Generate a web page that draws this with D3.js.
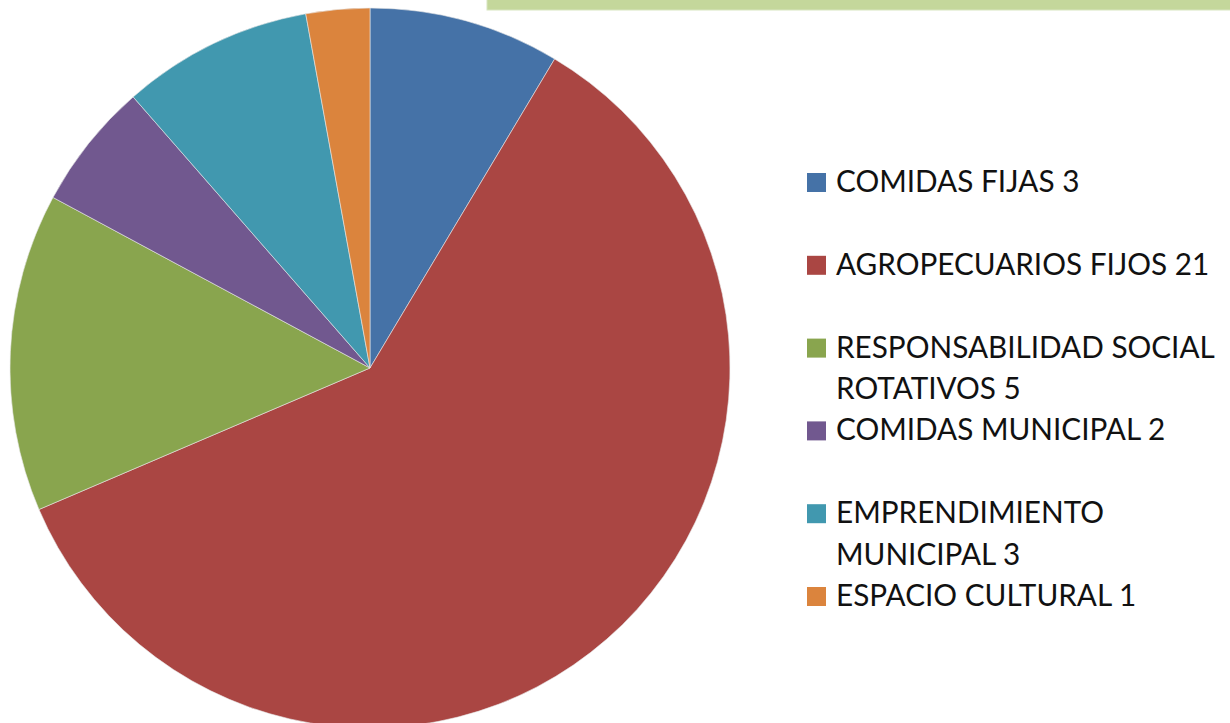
<!DOCTYPE html>
<html><head><meta charset="utf-8">
<script src="https://cdn.jsdelivr.net/npm/d3@7"></script>
<style>html,body{margin:0;padding:0;background:#fff;overflow:hidden}</style>
</head><body>
<svg id="chart" width="1230" height="723"></svg>
<script>
const categories = ["COMIDAS FIJAS 3","AGROPECUARIOS FIJOS 21","RESPONSABILIDAD SOCIAL ROTATIVOS 5","COMIDAS MUNICIPAL 2","EMPRENDIMIENTO MUNICIPAL 3","ESPACIO CULTURAL 1"];
const legendLines = [["COMIDAS FIJAS 3"],["AGROPECUARIOS FIJOS 21"],["RESPONSABILIDAD SOCIAL","ROTATIVOS 5"],["COMIDAS MUNICIPAL 2"],["EMPRENDIMIENTO","MUNICIPAL 3"],["ESPACIO CULTURAL 1"]];
const values = [3,21,5,2,3,1];
const colors = ["#4572a7","#aa4643","#89a54e","#71588f","#4198af","#db843d"];

const svg = d3.select("#chart");
// top decorative bar
svg.append("rect").attr("x",487).attr("y",-1).attr("width",760).attr("height",11)
  .attr("fill","#c4d79b").attr("stroke","#d8e5bf").attr("stroke-width",1);

const cx = 370, cy = 368, r = 360;
const pie = d3.pie().sort(null).value(d=>d)(values);
const arc = d3.arc().innerRadius(0).outerRadius(r);
const g = svg.append("g").attr("transform",`translate(${cx},${cy})`);
g.selectAll("path").data(pie).join("path")
  .attr("d",arc).attr("fill",(d,i)=>colors[i])
  .attr("stroke","#e8e8e8").attr("stroke-width",0.6);

// legend
const color = d3.scaleOrdinal().domain(categories).range(colors);
const lx = 807, ly0 = 192, entryStep = 82.8, lineStep = 41.5;
const leg = svg.append("g");
legendLines.forEach((lines,i)=>{
  const y = ly0 + i*entryStep;
  leg.append("rect").attr("x",lx).attr("y",y-19).attr("width",19).attr("height",19)
    .attr("fill",color(categories[i]));
  lines.forEach((t,j)=>{
    leg.append("text").attr("class","lt").attr("x",836).attr("y",y+j*lineStep)
      .attr("font-family","Lato, 'Open Sans', sans-serif").attr("font-size",30)
      .attr("fill","#111").text(t);
  });
});
// fit width of Calibri-like text: longest line should span ~379px
const texts = leg.selectAll("text.lt").nodes();
const ref = texts.find(n=>n.textContent==="RESPONSABILIDAD SOCIAL");
const sx = 379 / ref.getComputedTextLength();
leg.selectAll("text.lt").attr("transform",function(){const x=+this.getAttribute("x");return `translate(${x},0) scale(${sx},1) translate(${-x},0)`;});
</script>
</body></html>
